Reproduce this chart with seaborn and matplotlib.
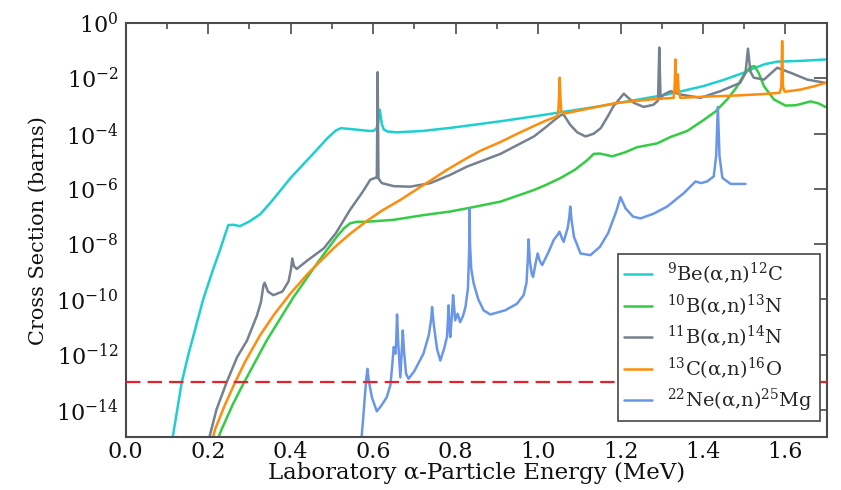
import numpy as np
import pandas as pd
import matplotlib
matplotlib.use("Agg")
import matplotlib.pyplot as plt
from matplotlib.ticker import FixedLocator, MultipleLocator, NullLocator, FormatStrFormatter
import seaborn as sns

# (alpha,n) cross sections: laboratory energy (MeV) and log10 of cross section (barns)
be9_E = [0.114, 0.136, 0.152, 0.170, 0.188, 0.210, 0.229, 0.240, 0.249, 0.262, 0.277,
         0.300, 0.326, 0.350, 0.374, 0.400, 0.450, 0.490, 0.510, 0.522, 0.545, 0.590,
         0.600, 0.608, 0.612, 0.615, 0.616, 0.618, 0.621, 0.626, 0.635, 0.658, 0.720,
         0.787, 0.909, 1.000, 1.152, 1.313, 1.400, 1.450, 1.499, 1.520, 1.550, 1.580,
         1.640, 1.697]
be9_log = [-15.0, -13.0, -12.0, -11.0, -10.0, -9.0, -8.2, -7.7, -7.31, -7.30, -7.35,
           -7.18, -6.92, -6.52, -6.08, -5.6, -4.8, -4.15, -3.88, -3.80, -3.83, -3.90,
           -3.90, -3.82, -3.6, -3.2, -3.13, -3.3, -3.65, -3.85, -3.92, -3.95, -3.9,
           -3.79, -3.55, -3.35, -3.0, -2.58, -2.28, -2.05, -1.79, -1.65, -1.48, -1.39,
           -1.36, -1.31]

b10_E = [0.225, 0.233, 0.260, 0.285, 0.342, 0.407, 0.464, 0.512, 0.530, 0.544, 0.560,
         0.585, 0.650, 0.722, 0.787, 0.836, 0.909, 0.990, 1.020, 1.054, 1.090, 1.120,
         1.135, 1.150, 1.180, 1.210, 1.240, 1.289, 1.321, 1.362, 1.402, 1.430, 1.459,
         1.480, 1.500, 1.515, 1.525, 1.535, 1.548, 1.572, 1.600, 1.625, 1.661, 1.680,
         1.697]
b10_log = [-15.0, -14.7, -13.8, -13.07, -11.49, -9.92, -8.70, -7.73, -7.42, -7.25, -7.19,
           -7.19, -7.12, -6.95, -6.82, -6.68, -6.46, -6.04, -5.85, -5.61, -5.3, -4.95,
           -4.73, -4.72, -4.82, -4.68, -4.49, -4.35, -4.12, -3.9, -3.5, -3.2, -2.75,
           -2.35, -1.85, -1.58, -1.55, -1.8, -2.28, -2.76, -2.98, -2.97, -2.83, -2.9,
           -3.03]

b11_E = [0.203, 0.220, 0.245, 0.270, 0.294, 0.318, 0.328, 0.334, 0.337, 0.345, 0.358,
         0.380, 0.395, 0.401, 0.404, 0.408, 0.415, 0.440, 0.480, 0.510, 0.544, 0.575,
         0.593, 0.605, 0.609, 0.611, 0.613, 0.621, 0.650, 0.690, 0.739, 0.787, 0.828,
         0.909, 0.990, 1.020, 1.040, 1.055, 1.062, 1.078, 1.095, 1.115, 1.135, 1.152,
         1.170, 1.183, 1.208, 1.232, 1.256, 1.280, 1.291, 1.294, 1.297, 1.305, 1.321,
         1.345, 1.394, 1.442, 1.490, 1.503, 1.509, 1.515, 1.523, 1.548, 1.580, 1.612,
         1.653, 1.697]
b11_log = [-15.0, -14.0, -13.0, -12.1, -11.5, -10.6, -10.1, -9.5, -9.4, -9.72, -9.85,
           -9.72, -9.35, -8.9, -8.52, -8.8, -8.9, -8.6, -8.16, -7.6, -6.76, -6.1,
           -5.67, -5.6, -5.6, -1.77, -5.62, -5.79, -5.9, -5.92, -5.79, -5.49, -5.19,
           -4.73, -4.1, -3.75, -3.5, -3.33, -3.31, -3.68, -3.95, -4.1, -4.0, -3.8,
           -3.35, -3.0, -2.55, -2.88, -3.03, -2.95, -2.8, -0.88, -2.7, -2.58, -2.46,
           -2.58, -2.70, -2.46, -2.16, -1.8, -0.92, -1.75, -1.97, -2.04, -1.61, -1.79,
           -2.04, -2.16]

c13_E = [0.212, 0.217, 0.240, 0.264, 0.290, 0.326, 0.360, 0.399, 0.440, 0.472, 0.510,
         0.544, 0.585, 0.620, 0.666, 0.700, 0.739, 0.780, 0.828, 0.860, 0.909, 0.950,
         0.990, 1.020, 1.046, 1.049, 1.051, 1.0525, 1.054, 1.056, 1.062, 1.070, 1.152,
         1.192, 1.273, 1.329, 1.3315, 1.333, 1.3345, 1.337, 1.339, 1.341, 1.345, 1.400,
         1.475, 1.540, 1.586, 1.590, 1.592, 1.594, 1.598, 1.637, 1.670, 1.697]
c13_log = [-15.0, -14.7, -13.85, -13.05, -12.25, -11.3, -10.55, -9.8, -9.1, -8.62, -8.07,
           -7.63, -7.16, -6.8, -6.4, -6.07, -5.7, -5.3, -4.88, -4.62, -4.3, -4.0,
           -3.72, -3.52, -3.37, -3.2, -2.6, -1.97, -2.6, -3.15, -3.27, -3.25, -3.0,
           -2.88, -2.76, -2.70, -2.2, -1.31, -2.2, -2.5, -1.85, -2.5, -2.70, -2.66,
           -2.62, -2.57, -2.52, -2.3, -0.64, -2.3, -2.48, -2.4, -2.28, -2.16]

ne22_E = [0.572, 0.576, 0.580, 0.584, 0.5864, 0.589, 0.597, 0.609, 0.620, 0.633, 0.642,
          0.646, 0.650, 0.654, 0.656, 0.658, 0.661, 0.666, 0.669, 0.672, 0.675, 0.680,
          0.686, 0.700, 0.722, 0.735, 0.741, 0.743, 0.747, 0.755, 0.763, 0.772, 0.779,
          0.781, 0.783, 0.785, 0.787, 0.791, 0.794, 0.797, 0.799, 0.805, 0.811, 0.818,
          0.824, 0.830, 0.833, 0.834, 0.835, 0.838, 0.844, 0.855, 0.868, 0.884, 0.920,
          0.949, 0.965, 0.972, 0.975, 0.977, 0.980, 0.985, 0.988, 0.994, 0.999, 1.004,
          1.010, 1.025, 1.038, 1.048, 1.052, 1.057, 1.062, 1.072, 1.076, 1.078, 1.081,
          1.087, 1.103, 1.127, 1.150, 1.170, 1.190, 1.200, 1.212, 1.230, 1.248, 1.280,
          1.313, 1.353, 1.382, 1.395, 1.410, 1.426, 1.432, 1.436, 1.440, 1.447, 1.467,
          1.503]
ne22_log = [-15.0, -14.3, -13.5, -12.8, -12.52, -12.9, -13.55, -14.06, -13.85, -13.55, -13.1,
            -12.46, -11.73, -11.97, -11.5, -10.55, -11.6, -12.83, -12.0, -11.13, -11.9, -12.70,
            -12.88, -12.6, -11.97, -11.3, -10.7, -10.28, -10.9, -11.8, -12.22, -11.8, -11.37,
            -10.9, -10.22, -10.9, -11.37, -10.6, -9.85, -10.4, -10.76, -10.52, -10.83, -10.6,
            -10.28, -9.6, -8.2, -6.7, -8.0, -8.9, -9.43, -10.0, -10.4, -10.55, -10.4,
            -10.16, -9.85, -9.4, -8.6, -7.83, -8.6, -9.1, -9.19, -8.7, -8.34, -8.6,
            -8.76, -8.3, -7.85, -7.65, -7.55, -7.75, -7.92, -7.4, -7.0, -6.64, -7.1,
            -7.73, -8.34, -8.4, -8.1, -7.6, -6.8, -6.3, -6.7, -7.0, -7.07, -6.9,
            -6.64, -6.16, -5.73, -5.79, -5.73, -5.55, -4.8, -3.03, -4.8, -5.6, -5.82,
            -5.82]

reactions = [r"$^{9}$Be(α,n)$^{12}$C", r"$^{10}$B(α,n)$^{13}$N", r"$^{11}$B(α,n)$^{14}$N",
             r"$^{13}$C(α,n)$^{16}$O", r"$^{22}$Ne(α,n)$^{25}$Mg"]
colors = ["#1fcfd0", "#33cc44", "#75818f", "#ff8c0a", "#6a96ea"]
threshold = 1e-13
x_ticks = [0.0, 0.2, 0.4, 0.6, 0.8, 1.0, 1.2, 1.4, 1.6]
y_ticks = [1e0, 1e-2, 1e-4, 1e-6, 1e-8, 1e-10, 1e-12, 1e-14]

series = [(be9_E, be9_log), (b10_E, b10_log), (b11_E, b11_log), (c13_E, c13_log), (ne22_E, ne22_log)]
frames = []
for name, (e, lg) in zip(reactions, series):
    frames.append(pd.DataFrame({"energy": e, "sigma": 10.0 ** np.asarray(lg), "reaction": name}))
df = pd.concat(frames, ignore_index=True)

sns.set_theme(style="white")
plt.rcParams["font.family"] = ["DejaVu Serif"]
plt.rcParams["mathtext.fontset"] = "dejavuserif"

fig = plt.figure(figsize=(8.41, 4.90), dpi=100)
ax = fig.add_axes([125.7 / 841, 1 - 437.3 / 490, 701 / 841, 414 / 490])

sns.lineplot(data=df, x="energy", y="sigma", hue="reaction", hue_order=reactions,
             palette=dict(zip(reactions, colors)), estimator=None, sort=False,
             linewidth=1.8, legend=False, ax=ax)
ax.set_yscale("log")
ax.axhline(threshold, color="#e8202a", lw=1.6, dashes=(6.5, 3.2), zorder=4)

ax.set_xlim(0.0, 1.7)
ax.set_ylim(1e-15, 1e0)
ax.xaxis.set_major_locator(FixedLocator(x_ticks))
ax.xaxis.set_minor_locator(MultipleLocator(0.1))
ax.xaxis.set_major_formatter(FormatStrFormatter("%.1f"))
ax.yaxis.set_major_locator(FixedLocator(y_ticks))
ax.yaxis.set_minor_locator(NullLocator())

edge = "#4a4a4a"
for s in ax.spines.values():
    s.set_color(edge)
    s.set_linewidth(1.5)
ax.tick_params(which="both", direction="in", top=True, right=True, color=edge, width=1.2,
               labelcolor="#111111")
ax.tick_params(axis="x", which="major", length=8, labelsize=16, pad=3)
ax.tick_params(axis="x", which="minor", length=4)
ax.tick_params(axis="y", which="major", length=9.5, labelsize=16, pad=5)

ax.set_xlabel("Laboratory α-Particle Energy (MeV)", fontsize=16.5, labelpad=-1, color="#111111")
ax.set_ylabel("Cross Section (barns)", fontsize=15, labelpad=6, color="#111111")

leg = ax.legend(ax.lines[:5], reactions, loc="lower right", bbox_to_anchor=(0.990, 0.039),
                borderaxespad=0, fontsize=14, frameon=True, fancybox=False,
                handlelength=1.4, handletextpad=0.8, labelspacing=0.28, borderpad=0.35)
leg.get_frame().set_edgecolor("#555555")
leg.get_frame().set_linewidth(1.3)
leg.get_frame().set_alpha(1.0)
leg.set_zorder(6)

fig.savefig("out.png", dpi=100)
